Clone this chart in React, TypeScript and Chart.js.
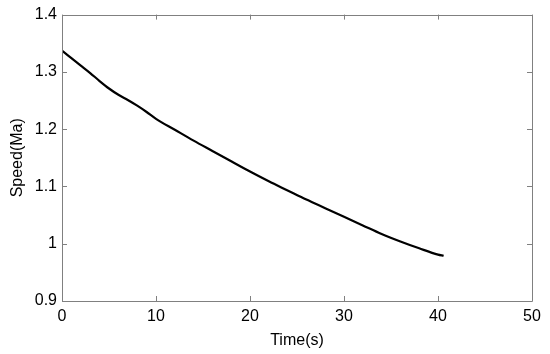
import React, { useEffect, useRef } from "react";
import { Chart, registerables } from "chart.js";

Chart.register(...registerables);

const timeS: number[] = [0, 1, 2, 3, 4, 5, 6, 7, 8, 9, 10, 12, 14, 16, 18, 20, 22, 24, 26, 28, 30, 32, 34, 36, 38, 40, 40.6];
const speedMa: number[] = [1.337, 1.324, 1.311, 1.298, 1.284, 1.271, 1.26, 1.251, 1.241, 1.23, 1.218, 1.199, 1.18, 1.162, 1.144, 1.126, 1.109, 1.093, 1.077, 1.062, 1.047, 1.032, 1.017, 1.004, 0.992, 0.981, 0.979];
const xTicks: number[] = [0, 10, 20, 30, 40, 50];
const yTicks: number[] = [0.9, 1, 1.1, 1.2, 1.3, 1.4];

const FONT = "'Liberation Sans', Arial, sans-serif";

const boxPlugin = {
  id: "matlabBox",
  afterDraw(chart: any) {
    const { ctx, chartArea } = chart;
    const xs = chart.scales.x;
    const ys = chart.scales.y;
    const { left, right, top, bottom } = chartArea;
    ctx.save();
    ctx.strokeStyle = "#808080";
    ctx.lineWidth = 1;
    ctx.beginPath();
    ctx.rect(Math.round(left) + 0.5, Math.round(top) + 0.5, Math.round(right - left), Math.round(bottom - top));
    ctx.stroke();
    const tl = 5;
    ctx.beginPath();
    xTicks.forEach((v) => {
      const px = Math.round(xs.getPixelForValue(v)) + 0.5;
      ctx.moveTo(px, bottom);
      ctx.lineTo(px, bottom - tl);
      ctx.moveTo(px, top);
      ctx.lineTo(px, top + tl);
    });
    yTicks.forEach((v) => {
      const py = Math.round(ys.getPixelForValue(v)) + 0.5;
      ctx.moveTo(left, py);
      ctx.lineTo(left + tl, py);
      ctx.moveTo(right, py);
      ctx.lineTo(right - tl, py);
    });
    ctx.stroke();
    ctx.restore();
  },
};

export default function App() {
  const ref = useRef<HTMLCanvasElement | null>(null);
  useEffect(() => {
    if (!ref.current) return;
    const chart = new Chart(ref.current, {
      type: "line",
      data: {
        datasets: [
          {
            data: timeS.map((t, i) => ({ x: t, y: speedMa[i] })),
            borderColor: "#000000",
            borderWidth: 2.2,
            pointRadius: 0,
            cubicInterpolationMode: "monotone",
            fill: false,
          },
        ],
      },
      options: {
        responsive: false,
        animation: false,
        layout: { padding: { top: 14, right: 18, left: 0, bottom: 0 } },
        plugins: { legend: { display: false }, tooltip: { enabled: false } },
        scales: {
          x: {
            type: "linear",
            min: 0,
            max: 50,
            afterBuildTicks: (s: any) => {
              s.ticks = xTicks.map((v) => ({ value: v }));
            },
            afterFit: (s: any) => {
              s.height = 53;
            },
            grid: { display: false, drawTicks: false },
            border: { display: false },
            ticks: { color: "#000", font: { family: FONT, size: 16 }, padding: 6, maxRotation: 0 },
            title: { display: true, text: "Time(s)", color: "#000", font: { family: FONT, size: 16 }, padding: { top: 0, bottom: 4 } },
          },
          y: {
            type: "linear",
            min: 0.9,
            max: 1.4,
            afterBuildTicks: (s: any) => {
              s.ticks = yTicks.map((v) => ({ value: v }));
            },
            afterFit: (s: any) => {
              s.width = 62;
            },
            grid: { display: false, drawTicks: false },
            border: { display: false },
            ticks: {
              color: "#000",
              font: { family: FONT, size: 16 },
              padding: 5,
              callback: (v: any) => String(Math.round(Number(v) * 10) / 10),
            },
            title: { display: true, text: "Speed(Ma)", color: "#000", font: { family: FONT, size: 16 }, padding: { top: 8, bottom: 0 } },
          },
        },
      },
      plugins: [boxPlugin],
    } as any);
    return () => chart.destroy();
  }, []);
  return (
    <canvas
      ref={ref}
      width={550}
      height={354}
      style={{ position: "fixed", left: 0, top: 0, width: 550, height: 354, background: "#fff" }}
    />
  );
}
